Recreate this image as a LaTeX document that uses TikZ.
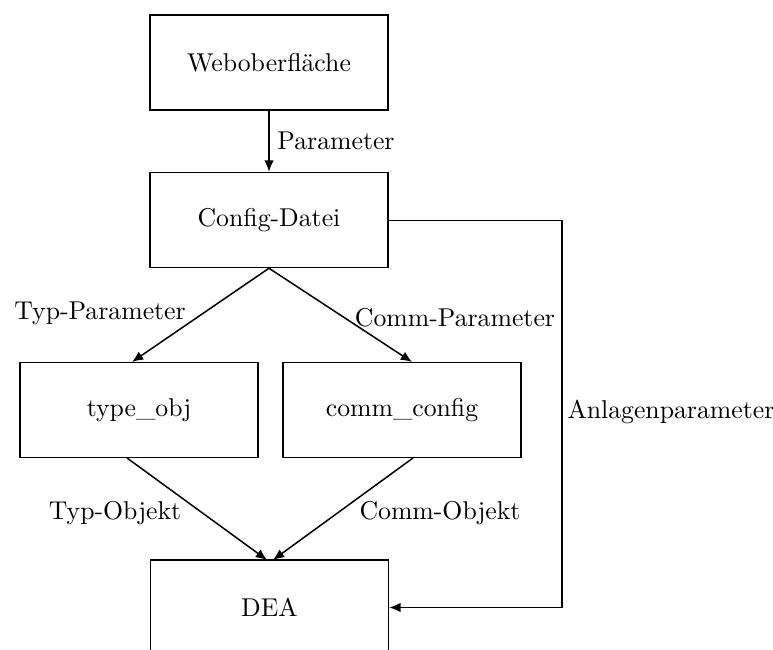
\documentclass[tikz,border=0pt]{standalone}
\usetikzlibrary{arrows.meta}
\begin{document}
\begin{tikzpicture}[x=0.4pt,y=-0.4pt,
  box/.style={draw,line width=0.6pt,minimum width=95.2pt,minimum height=38pt,inner sep=0pt,font=\fontsize{10.3}{12}\selectfont},
  conn/.style={draw,line width=0.6pt,-{Latex[length=4.5pt,width=3.8pt]}},
  lbl/.style={font=\fontsize{10.3}{12}\selectfont,inner sep=0pt}]
\clip (0,0) rectangle (773,650);
\useasboundingbox (0,0) rectangle (773,650);
\node[box] (web) at (269,62.5) {Weboberfläche};
\node[box] (cfg) at (269,220) {Config-Datei};
\node[box] (typ) at (139,410) {type\_obj};
\node[box] (comm) at (402,410) {comm\_config};
\node[box] (dea) at (269.5,607.5) {DEA};
\coordinate (typin) at (132,362);
\coordinate (commin) at (412,362);
\coordinate (typout) at (127,458);
\coordinate (commout) at (413,458);
\coordinate (dealeft) at (267,560);
\coordinate (dearight) at (273,560);
\coordinate (c1) at (562,220.5);
\coordinate (c2) at (562,607.5);
\draw[conn] (web.south) -- (cfg.north);
\draw[conn] (cfg.south) -- (typin);
\draw[conn] (cfg.south) -- (commin);
\draw[conn] (typout) -- (dealeft);
\draw[conn] (commout) -- (dearight);
\draw[conn] (cfg.east |- c1) -- (c1) -- (c2) -- (dea.east);
\node[lbl] (l1) at (336,141) {Parameter};
\node[lbl] (l2) at (100,313) {Typ-Parameter};
\node[lbl] (l3) at (455,318) {Comm-Parameter};
\node[lbl] (l4) at (115,513) {Typ-Objekt};
\node[lbl] (l5) at (440,513) {Comm-Objekt};
\node[lbl,anchor=west] (l6) at (567,412) {Anlagenparameter};
\end{tikzpicture}
\end{document}
